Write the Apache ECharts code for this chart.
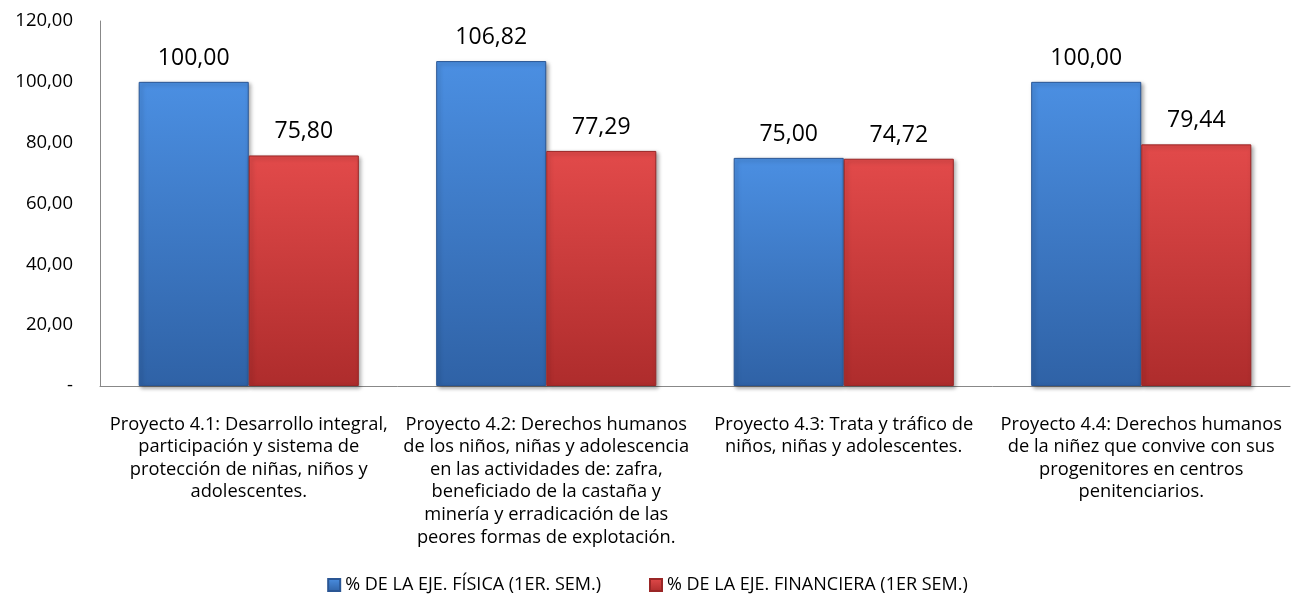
<!DOCTYPE html>
<html><head><meta charset="utf-8">
<script src="https://cdn.jsdelivr.net/npm/echarts@6/dist/echarts.min.js"></script>
<style>html,body{margin:0;padding:0;background:#fff}#c{width:1295px;height:600px}</style>
</head><body><div id="c"></div>
<script>
var categories = [
  "Proyecto 4.1: Desarrollo integral,\nparticipación y sistema de\nprotección de niñas, niños y\nadolescentes.",
  "Proyecto 4.2: Derechos humanos\nde los niños, niñas y adolescencia\nen las actividades de: zafra,\nbeneficiado de la castaña y\nminería y erradicación de las\npeores formas de explotación.",
  "Proyecto 4.3: Trata y tráfico de\nniños, niñas y adolescentes.",
  "Proyecto 4.4: Derechos humanos\nde la niñez que convive con sus\nprogenitores en centros\npenitenciarios."
];
var seriesNames = ["% DE LA EJE. FÍSICA (1ER. SEM.)", "% DE LA EJE. FINANCIERA (1ER SEM.)"];
var fisica = [100.00, 106.82, 75.00, 100.00];
var financiera = [75.80, 77.29, 74.72, 79.44];

var fmt = function (v) { return v === 0 ? '-' : v.toFixed(2).replace('.', ','); };
var font = "Open Sans";
var chart = echarts.init(document.getElementById('c'));
function grad(top, bottom) {
  return new echarts.graphic.LinearGradient(0, 0, 0, 1, [{offset: 0, color: top}, {offset: 1, color: bottom}]);
}
chart.setOption({
  animation: false,
  textStyle: {fontFamily: font},
  grid: {left: 100, right: 5, top: 21, bottom: 214},
  legend: {
    bottom: 1, left: 'center', itemWidth: 12, itemHeight: 12, itemGap: 48,
    icon: 'rect',
    textStyle: {fontSize: 18, color: '#000', fontFamily: font},
    data: seriesNames
  },
  xAxis: {
    type: 'category', data: categories,
    axisLine: {lineStyle: {color: '#888', width: 1}},
    axisTick: {show: false},
    axisLabel: {interval: 0, color: '#000', fontSize: 18.3, lineHeight: 22.6, margin: 27, fontFamily: font}
  },
  yAxis: {
    type: 'value', min: 0, max: 120, interval: 20,
    axisLine: {show: true, lineStyle: {color: '#888'}},
    axisTick: {show: false},
    splitLine: {show: false},
    axisLabel: {color: '#000', fontSize: 18.5, margin: 27, formatter: fmt, fontFamily: font}
  },
  series: [
    {
      name: seriesNames[0], type: 'bar', data: fisica, barGap: '0%', barCategoryGap: '26%',
      itemStyle: {color: grad('#4b8fe2', '#2f62a6'), borderColor: '#2a5694', borderWidth: 1,
        shadowColor: 'rgba(0,0,0,0.35)', shadowBlur: 4, shadowOffsetX: 2, shadowOffsetY: 2},
      label: {show: true, position: 'top', distance: 12, fontSize: 23, color: '#000', formatter: function (p) { return fmt(p.value); }}
    },
    {
      name: seriesNames[1], type: 'bar', data: financiera,
      itemStyle: {color: grad('#e24a4a', '#ae2c2c'), borderColor: '#9a2626', borderWidth: 1,
        shadowColor: 'rgba(0,0,0,0.35)', shadowBlur: 4, shadowOffsetX: 2, shadowOffsetY: 2},
      label: {show: true, position: 'top', distance: 12, fontSize: 23, color: '#000', formatter: function (p) { return fmt(p.value); }}
    }
  ]
});
</script></body></html>
